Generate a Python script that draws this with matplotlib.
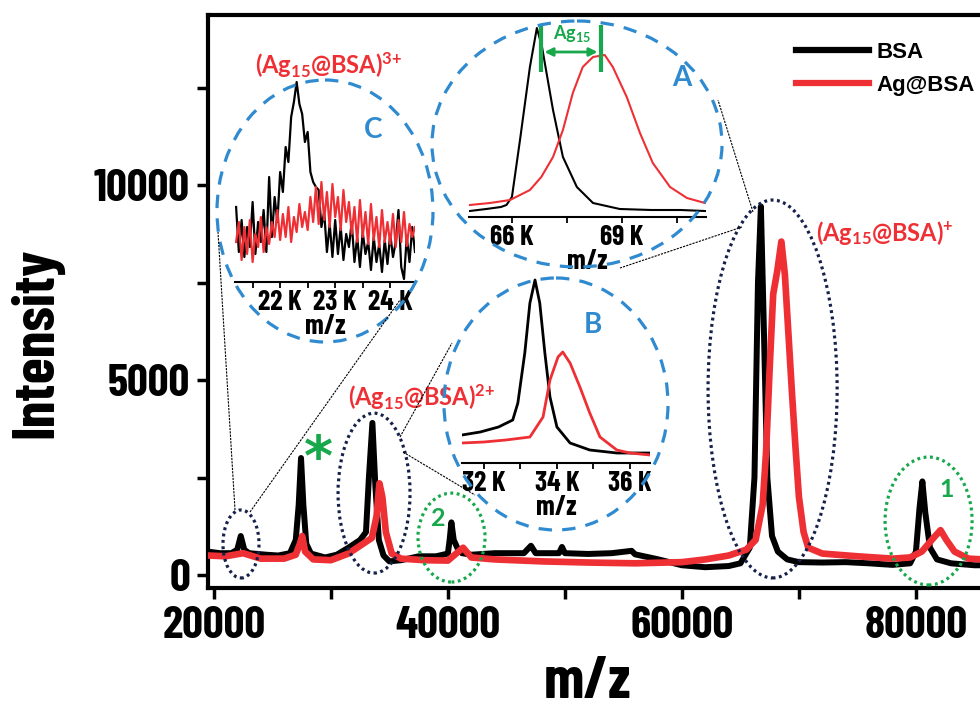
import numpy as np
import matplotlib
matplotlib.use("Agg")
import matplotlib.pyplot as plt
from matplotlib.patches import Ellipse
from matplotlib.ticker import FixedLocator, FuncFormatter

NARROW = ['Barlow Condensed', 'PT Sans Narrow', 'Liberation Sans', 'DejaVu Sans']
ARIAL = ['Liberation Sans', 'Arimo', 'DejaVu Sans']
plt.rcParams['font.family'] = NARROW
plt.rcParams['font.weight'] = 'bold'
plt.rcParams['mathtext.fontset'] = 'custom'
plt.rcParams['mathtext.rm'] = 'Lato:bold'
plt.rcParams['mathtext.default'] = 'rm'

RED = '#ee3035'
GREEN = '#18a84c'
BLUE = '#2f8ad0'
NAVY = '#16214a'

# ---- main spectrum (m/z, intensity) ----
bsa_mz = [19500, 20500, 21500, 22000, 22300, 22600, 23000, 24500, 25500, 26500,
          27000, 27250, 27450, 27650, 27900, 28300, 29500, 30500, 31500, 32500,
          33000, 33250, 33550, 33800, 34100, 34500, 35000, 36000, 37500, 39000,
          40000, 40150, 40300, 40500, 40800, 41200, 42000, 44000, 46500, 47100,
          47500, 49500, 49750, 50000, 52000, 54000, 55700, 56000, 58000, 60000,
          62000, 64000, 65000, 65800, 66200, 66500, 66750, 66950, 67300, 67700,
          68200, 69000, 70000, 72000, 74000, 76000, 78000, 79500, 80000, 80300,
          80550, 80800, 81200, 81800, 83000, 85000, 87000]
bsa_int = [600, 560, 560, 650, 1000, 650, 560, 520, 500, 560,
           900, 1800, 3000, 1800, 800, 550, 450, 520, 700, 900,
           1100, 2500, 3900, 2300, 900, 500, 350, 380, 480, 480,
           550, 900, 1350, 900, 700, 560, 520, 560, 560, 750,
           560, 560, 720, 560, 540, 560, 620, 530, 400, 250,
           200, 230, 300, 700, 2500, 7500, 9450, 7000, 2500, 1000,
           600, 400, 330, 320, 330, 300, 260, 300, 600, 1700,
           2400, 1600, 700, 400, 300, 250, 250]

ag_mz = [19500, 21000, 22500, 24000, 26000, 27000, 27350, 27550, 27800, 28500,
         30000, 31500, 32500, 33500, 33900, 34150, 34400, 34700, 35200, 36000,
         38000, 40000, 41300, 42000, 44000, 48000, 52000, 56000, 60000, 62000,
         64000, 65500, 66300, 66900, 67200, 67500, 67800, 68150, 68500, 68800,
         69100, 69400, 69700, 70000, 70400, 70800, 72000, 75000, 78000, 79500,
         80500, 81500, 82100, 82600, 83300, 84500, 87000]
ag_int = [500, 480, 560, 420, 420, 520, 800, 1000, 600, 400,
          380, 550, 750, 950, 1500, 2350, 2000, 1100, 550, 420,
          380, 370, 700, 450, 400, 350, 320, 300, 330, 400,
          500, 650, 900, 1800, 3200, 5300, 7200, 7800, 8550, 7700,
          6200, 4700, 3300, 2000, 1100, 700, 550, 480, 420, 450,
          600, 950, 1150, 900, 600, 420, 380]

# ---- inset A (m/z in K, signal in arbitrary units) ----
a_bsa_mz = [64.85, 65.3, 65.7, 65.85, 66.0, 66.22, 66.49, 66.68, 66.82, 67.12,
            67.39, 67.77, 68.21, 68.94, 69.8, 70.6, 71.26]
a_bsa_int = [6, 8, 10, 12, 20, 77, 150, 189, 170, 107,
             60, 30, 14, 8, 7, 7, 6]
a_ag_mz = [64.85, 65.4, 65.95, 66.49, 66.8, 67.12, 67.39, 67.66, 67.93, 68.21,
           68.53, 68.75, 69.13, 69.49, 69.84, 70.31, 70.77, 71.26]
a_ag_int = [12, 14, 17, 27, 40, 60, 87, 124, 150, 160,
            162, 150, 120, 84, 54, 30, 19, 14]
a_peaks = [66.79, 68.43]

# ---- inset B ----
b_bsa_mz = [31.40, 31.9, 32.4, 32.79, 32.93, 33.12, 33.26, 33.40, 33.53, 33.67,
            33.81, 34.0, 34.36, 34.9, 35.64, 36.55]
b_bsa_int = [28, 31, 36, 43, 60, 110, 160, 183, 160, 110,
             66, 36, 20, 13, 10, 10]
b_ag_mz = [31.40, 32.0, 32.6, 33.26, 33.62, 33.81, 34.03, 34.16, 34.36, 34.63,
           34.90, 35.18, 35.64, 36.0, 36.55]
b_ag_int = [20, 21, 23, 26, 46, 83, 106, 111, 100, 76,
            50, 26, 13, 10, 8]

# ---- inset C (noisy trace, sampled every 0.05 K from 21.20 K) ----
c_mz = np.arange(66) * 0.05 + 21.20
c_bsa_int = [75, 30, 62, 25, 55, 35, 80, 28, 60, 40, 72, 30, 105, 45, 85, 60,
             110, 90, 135, 120, 165, 180, 200, 178, 168, 140, 150, 110, 100, 95,
             92, 55, 70, 30, 58, 25, 62, 28, 55, 22, 48, 35, 60, 20, 45, 15,
             50, 28, 40, 12, 45, 20, 38, 10, 42, 18, 48, 25, 40, 72, 15, 3,
             45, 20, 55, 30]
c_ag_int = [40, 60, 22, 55, 28, 62, 20, 48, 35, 65, 30, 55, 38, 60, 45, 72,
            42, 68, 45, 75, 40, 65, 50, 78, 55, 70, 52, 85, 60, 95, 58, 100,
            62, 90, 55, 98, 65, 85, 52, 92, 60, 80, 48, 75, 40, 82, 45, 70,
            38, 78, 42, 65, 35, 72, 40, 60, 38, 68, 35, 62, 40, 70, 36, 58,
            45, 55]

W, H = 980, 710
fig = plt.figure(figsize=(W / 100, H / 100), dpi=100)


def px_rect(x0, x1, ytop, ybot):
    return [x0 / W, (H - ybot) / H, (x1 - x0) / W, (ybot - ytop) / H]


# ---- main axes ----
ax = fig.add_axes(px_rect(208, 992, 15, 588))
ax.plot(bsa_mz, bsa_int, color='black', lw=4.3, solid_joinstyle='round', zorder=3)
ax.plot(ag_mz, ag_int, color=RED, lw=4.8, solid_joinstyle='round', zorder=4)
ax.set_xlim(19500, 86500)
ax.set_ylim(-333, 14360)
ax.set_xticks([20000, 40000, 60000, 80000])
ax.set_xticks([30000, 50000, 70000], minor=True)
ax.set_yticks([0, 5000, 10000])
ax.set_yticks([2500, 7500, 12500], minor=True)
for s in ax.spines.values():
    s.set_linewidth(3)
ax.tick_params(which='both', direction='out', length=8, width=2.5)
ax.tick_params(axis='both', labelsize=33, pad=5)
for lab in ax.get_xticklabels() + ax.get_yticklabels():
    lab.set_fontweight('bold')

fig.text(36 / W, 1 - 343 / H, 'Intensity', rotation=90, fontsize=43,
         fontweight='bold', ha='center', va='center')
fig.text(587 / W, 1 - 683 / H, 'm/z', fontsize=43, fontweight='bold',
         ha='center', va='center')

leg_handles = [plt.Line2D([], [], color='black', lw=4.5),
               plt.Line2D([], [], color=RED, lw=4.5)]
leg = fig.legend(leg_handles, ['BSA', 'Ag@BSA'], loc='upper left',
                 bbox_to_anchor=(776 / W, 1 - 22 / H), frameon=False,
                 prop={'family': ARIAL, 'weight': 'bold', 'size': 16},
                 handlelength=3.3, handletextpad=0.3, labelspacing=0.55)

# peak annotations on the main axes (data coordinates)
for (cx, cy, w, h, col) in [(22320, 795, 3077, 1744, NAVY),
                            (33690, 2100, 6150, 4100, NAVY),
                            (67750, 4770, 11030, 9690, NAVY),
                            (40310, 960, 5730, 2280, GREEN),
                            (81080, 1385, 7440, 3280, GREEN)]:
    e = Ellipse((cx, cy), w, h, fill=False, edgecolor=col, lw=2.3,
                linestyle=(0, (0.9, 1.1)), zorder=6)
    ax.add_patch(e)

lab_font = dict(family='Lato', weight='bold', color=RED, fontsize=17,
                ha='center', va='center', zorder=7)
ax.text(29840, 13080, '(Ag$_{15}$@BSA)$^{3{+}}$', **lab_font)
ax.text(37790, 4560, '(Ag$_{15}$@BSA)$^{2{+}}$', **lab_font)
ax.text(77320, 8770, '(Ag$_{15}$@BSA)$^{{+}}$', **lab_font)
ax.text(28900, 2950, '*', family='DejaVu Sans', weight='bold', color=GREEN,
        fontsize=40, ha='center', va='center')
ax.text(39160, 1460, '2', family='Lato', weight='bold', color=GREEN,
        fontsize=18, ha='center', va='center')
ax.text(82660, 2180, '1', family='Lato', weight='bold', color=GREEN,
        fontsize=18, ha='center', va='center')


# ---- insets ----
def make_inset(rect, xlim, ylim, major, minor):
    ia = fig.add_axes(rect)
    ia.patch.set_alpha(0)
    ia.set_xlim(*xlim)
    ia.set_ylim(*ylim)
    for k in ['left', 'right', 'top']:
        ia.spines[k].set_visible(False)
    ia.spines['bottom'].set_linewidth(1.5)
    ia.set_yticks([])
    ia.xaxis.set_major_locator(FixedLocator(major))
    ia.xaxis.set_minor_locator(FixedLocator(minor))
    ia.xaxis.set_major_formatter(FuncFormatter(lambda v, p: f'{v:g} K'))
    ia.tick_params(which='both', direction='out', length=4, width=1.3,
                   labelsize=20, pad=2)
    ia.set_xlabel('m/z', fontsize=20, fontweight='bold', labelpad=-1)
    return ia


axA = make_inset(px_rect(469, 706, 20, 217), (64.83, 71.29), (0, 197),
                 [66, 69], [67.5, 70.5])
axA.plot(a_bsa_mz, a_bsa_int, color='black', lw=1.5)
axA.plot(a_ag_mz, a_ag_int, color=RED, lw=1.5)
axA.vlines(a_peaks, 145, 192, color=GREEN, lw=3)
axA.annotate('', xy=(a_peaks[0] + 0.02, 165), xytext=(a_peaks[1] - 0.02, 165),
             arrowprops=dict(arrowstyle='<|-|>', color=GREEN, lw=2,
                             mutation_scale=12))
axA.text(67.63, 183, 'Ag$_{15}$', color=GREEN, family='Lato', weight='bold',
         fontsize=13, ha='center', va='center')
axA.text(70.63, 139, 'A', color=BLUE, family='Lato', weight='bold',
         fontsize=20, ha='center', va='center')

axB = make_inset(px_rect(462, 650, 270, 463), (31.40, 36.55), (0, 193),
                 [32, 34, 36], [33, 35])
axB.plot(b_bsa_mz, b_bsa_int, color='black', lw=2)
axB.plot(b_ag_mz, b_ag_int, color=RED, lw=2)
axB.text(34.99, 138, 'B', color=BLUE, family='Lato', weight='bold',
         fontsize=20, ha='center', va='center')

axC = make_inset(px_rect(235, 415, 70, 282), (21.18, 24.45), (0, 212),
                 [22, 23, 24], [21.5, 22.5, 23.5])
axC.plot(c_mz, c_bsa_int, color='black', lw=1.6)
axC.plot(c_mz, c_ag_int, color=RED, lw=1.6)
axC.text(23.69, 152, 'C', color=BLUE, family='Lato', weight='bold',
         fontsize=20, ha='center', va='center')

# ---- overlay: magnifier circles and connector lines (pixel coordinates) ----
ov = fig.add_axes([0, 0, 1, 1], zorder=10)
ov.set_xlim(0, W)
ov.set_ylim(H, 0)
ov.axis('off')
for (cx, cy, rx, ry) in [(577, 144, 145, 123), (556, 404, 112, 126),
                         (325, 211, 108, 131)]:
    ov.add_patch(Ellipse((cx, cy), 2 * rx, 2 * ry, fill=False, edgecolor=BLUE,
                         lw=2.3, linestyle=(0, (4.2, 3.2))))
for (x0, y0, x1, y1) in [(235, 510, 218, 232), (250, 512, 400, 300),
                         (400, 437, 452, 343), (403, 452, 475, 495),
                         (753, 212, 718, 100), (742, 227, 620, 268)]:
    ov.plot([x0, x1], [y0, y1], color='black', lw=0.8, linestyle=(0, (2, 1)))

fig.savefig('out.png', dpi=100)
